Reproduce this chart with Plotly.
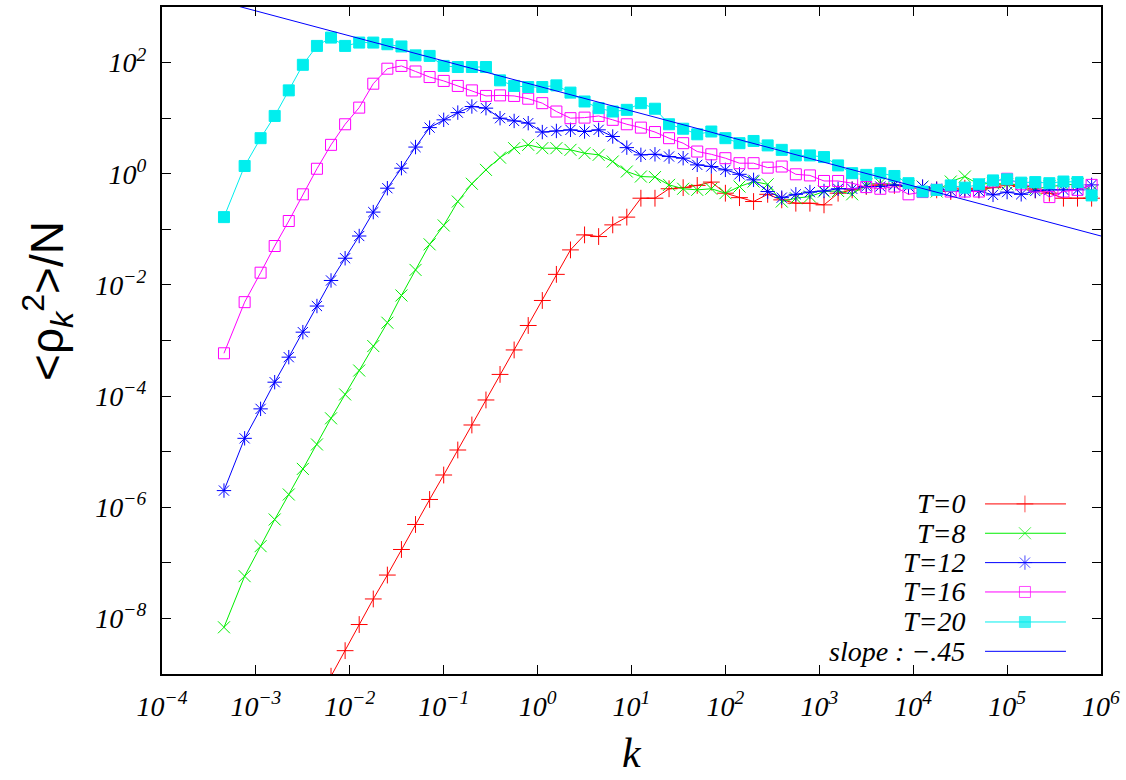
import numpy as np
import plotly.graph_objects as go

# ---------------- data (log10 values) ----------------
LOG10_K = [-3.34, -3.12, -2.95, -2.80, -2.65, -2.50, -2.35, -2.20, -2.05, -1.90,
           -1.75, -1.60, -1.45, -1.30, -1.15, -1.00, -0.85, -0.70, -0.55, -0.40,
           -0.25, -0.10, 0.05, 0.20, 0.35, 0.50, 0.65, 0.80, 0.95, 1.10,
           1.25, 1.40, 1.55, 1.70, 1.85, 2.00, 2.15, 2.30, 2.45, 2.60,
           2.75, 2.90, 3.05, 3.20, 3.35, 3.50, 3.65, 3.80, 3.95, 4.10,
           4.25, 4.40, 4.55, 4.70, 4.85, 5.00, 5.15, 5.30, 5.45, 5.60,
           5.75, 5.90]

LOG_T0 = [None, None, None, None, None, None, None,
          -9.04, -8.58, -8.11, -7.65, -7.22, -6.76, -6.31, -5.86, -5.42, -4.97,
          -4.52, -4.07, -3.61, -3.17, -2.73, -2.28, -1.81,
          -1.37, -1.10, -1.13, -0.92, -0.78, -0.44, -0.44, -0.27, -0.25, -0.21,
          -0.15, -0.35, -0.43, -0.50, -0.37, -0.47, -0.53, -0.53, -0.56, -0.35,
          -0.29, -0.23, -0.20, -0.21, -0.23, -0.26, -0.29, -0.32, -0.26, -0.29,
          -0.25, -0.20, -0.23, -0.29, -0.35, -0.44, -0.44, -0.44]

LOG_T8 = [-8.16, -7.24, -6.70, -6.22, -5.77, -5.31, -4.87, -4.40, -3.97, -3.54,
          -3.10, -2.68, -2.19, -1.73, -1.27, -0.93, -0.50, -0.18, 0.07, 0.29,
          0.46, 0.52, 0.46, 0.46,
          0.43, 0.37, 0.34, 0.22, 0.04, -0.05, -0.06, -0.20, -0.27, -0.29,
          -0.27, -0.35, -0.23, -0.14, -0.19, -0.50, -0.44, -0.41, -0.32, -0.31,
          -0.37, -0.19, -0.17, -0.19, -0.23, -0.23, -0.32, -0.14, -0.05, -0.19,
          -0.17, -0.19, -0.19, -0.27, -0.23, -0.20, -0.19, -0.31]

LOG_T12 = [-5.70, -4.76, -4.23, -3.75, -3.30, -2.85, -2.38, -1.92, -1.52, -1.12,
           -0.69, -0.26, 0.10, 0.48, 0.83, 0.97, 1.10, 1.21, 1.18, 1.00,
           0.95, 0.91, 0.75, 0.77,
           0.79, 0.76, 0.79, 0.67, 0.47, 0.34, 0.35, 0.31, 0.28, 0.16,
           0.13, 0.07, -0.01, -0.11, -0.32, -0.43, -0.37, -0.33, -0.31, -0.27,
           -0.27, -0.23, -0.23, -0.20, -0.23, -0.23, -0.27, -0.31, -0.31, -0.31,
           -0.38, -0.33, -0.37, -0.31, -0.29, -0.29, -0.29, -0.20]

LOG_T16 = [-3.23, -2.31, -1.78, -1.30, -0.85, -0.37, 0.09, 0.52, 0.89, 1.19,
           1.62, 1.89, 1.94, 1.84, 1.74, 1.67, 1.58, 1.50, 1.40, 1.41,
           1.40, 1.35, 1.27, 1.12,
           1.00, 1.01, 1.04, 0.97, 0.89, 0.83, 0.75, 0.64, 0.55, 0.40,
           0.35, 0.28, 0.19, 0.19, 0.11, 0.13, -0.01, -0.03, -0.13, -0.13,
           -0.17, -0.24, -0.27, -0.23, -0.37, -0.33, -0.29, -0.32, -0.32, -0.32,
           -0.14, -0.09, -0.19, -0.23, -0.42, -0.32, -0.29, -0.20]

LOG_T20 = [-0.78, 0.14, 0.64, 1.04, 1.50, 1.96, 2.30, 2.45, 2.30, 2.36,
           2.36, 2.33, 2.29, 2.13, 2.12, 1.94, 1.92, 1.92, 1.92, 1.68,
           1.58, 1.56, 1.56, 1.59,
           1.46, 1.30, 1.18, 1.12, 1.15, 1.27, 1.17, 0.89, 0.81, 0.71,
           0.76, 0.64, 0.55, 0.59, 0.51, 0.43, 0.33, 0.33, 0.30, 0.15,
           0.01, -0.02, 0.01, -0.04, -0.17, -0.32, -0.29, -0.21, -0.25, -0.19,
           -0.12, -0.10, -0.16, -0.15, -0.17, -0.14, -0.15, -0.39]

SERIES_NAMES = ["T=0", "T=8", "T=12", "T=16", "T=20"]
SLOPE_NAME = "slope : \u2212.45"
SLOPE = -0.45
PREFACTOR = 38.0
SLOPE_K = [1e-4, 1e6]

X_TICK_EXP = [-4, -3, -2, -1, 0, 1, 2, 3, 4, 5, 6]
Y_LABEL_EXP = [-8, -6, -4, -2, 0, 2]
Y_MINOR_EXP = [-9, -7, -5, -3, -1, 1, 3]

# ---------------- styles ----------------
COLORS = ["#ff0000", "#00ee00", "#0000ff", "#ff00ff", "#00eeee"]
SYMBOLS = ["cross-thin", "x-thin", "asterisk", "square-open", "square"]
SIZES = [12, 12, 12, 11, 11]
SLOPE_COLOR = "#0000ff"
SERIF = "Liberation Serif"
SANS = "Liberation Sans"

k = np.power(10.0, LOG10_K)


def to_lin(vals):
    return [None if v is None else 10.0 ** v for v in vals]


fig = go.Figure()
for name, vals, col, sym, sz in zip(SERIES_NAMES, [LOG_T0, LOG_T8, LOG_T12, LOG_T16, LOG_T20],
                                     COLORS, SYMBOLS, SIZES):
    fig.add_trace(go.Scatter(
        x=k, y=to_lin(vals), name=name, mode="lines+markers",
        line=dict(color=col, width=1),
        marker=dict(symbol=sym, size=sz, color=col, line=dict(color=col, width=1)),
        showlegend=False, connectgaps=False))

slope_y = [PREFACTOR * kk ** SLOPE for kk in SLOPE_K]
fig.add_trace(go.Scatter(x=SLOPE_K, y=slope_y, mode="lines", name=SLOPE_NAME,
                         line=dict(color=SLOPE_COLOR, width=1), showlegend=False))

# ---------------- manual gnuplot-style key (text left, sample right) ----------------
KEY_ROWS = [0.255, 0.211, 0.167, 0.123, 0.078, 0.034]
KEY_TEXT_X = 0.857
KEY_LINE_X = [0.8765, 0.919, 0.9627]
for i, name in enumerate(SERIES_NAMES + [SLOPE_NAME]):
    r = KEY_ROWS[i]
    if i < 5:
        fig.add_trace(go.Scatter(
            x=KEY_LINE_X, y=[r, r, r], xaxis="x2", yaxis="y2", mode="lines+markers",
            line=dict(color=COLORS[i], width=1),
            marker=dict(symbol=SYMBOLS[i], size=[0, SIZES[i], 0], color=COLORS[i],
                        line=dict(color=COLORS[i], width=1)),
            showlegend=False, hoverinfo="skip"))
    else:
        fig.add_trace(go.Scatter(
            x=[KEY_LINE_X[0], KEY_LINE_X[2]], y=[r, r], xaxis="x2", yaxis="y2", mode="lines",
            line=dict(color=SLOPE_COLOR, width=1), showlegend=False, hoverinfo="skip"))
    fig.add_annotation(x=KEY_TEXT_X, y=r, xref="paper", yref="paper", text=f"<i>{name}</i>",
                       showarrow=False, xanchor="right", yanchor="middle",
                       font=dict(family=SERIF, size=28, color="black"))


def exp_label(n):
    s = str(n).replace("-", "\u2212")
    return f"<i>10<sup>{s}</sup></i>"


axis_common = dict(type="log", showgrid=False, zeroline=False, showline=True, linecolor="black",
                   linewidth=2, mirror="allticks", ticks="inside", ticklen=9, tickwidth=1,
                   tickcolor="black", tickmode="array",
                   tickfont=dict(family=SERIF, size=28, color="black"))

fig.update_layout(
    width=1126, height=780,
    margin=dict(l=162, r=25, t=5, b=106),
    paper_bgcolor="white", plot_bgcolor="white",
    xaxis=dict(range=[-4, 6], tickvals=[10.0 ** e for e in X_TICK_EXP],
               ticktext=[exp_label(e) for e in X_TICK_EXP], ticklabelstandoff=6, **axis_common),
    yaxis=dict(range=[-9, 3], tickvals=[10.0 ** e for e in Y_LABEL_EXP],
               ticktext=[exp_label(e) for e in Y_LABEL_EXP], ticklabelstandoff=8,
               minor=dict(tickmode="array", tickvals=[10.0 ** e for e in Y_MINOR_EXP],
                          ticks="inside", ticklen=9, tickwidth=1, tickcolor="black", showgrid=False),
               **axis_common),
    xaxis2=dict(overlaying="x", range=[0, 1], visible=False, showticklabels=False, fixedrange=True),
    yaxis2=dict(overlaying="y", range=[0, 1], visible=False, showticklabels=False, fixedrange=True),
    showlegend=False,
)

fig.add_annotation(x=0.5, y=-0.119, xref="paper", yref="paper", text="<i>k</i>", showarrow=False,
                   xanchor="center", yanchor="middle", font=dict(family=SERIF, size=42, color="black"))
fig.add_annotation(x=-0.122, y=0.56, xref="paper", yref="paper",
                   text="&lt;\u03c1<sub><i>k</i></sub><sup>2</sup>&gt;/N", textangle=-90,
                   showarrow=False, xanchor="center", yanchor="middle",
                   font=dict(family=SANS, size=46, color="black"))

fig.write_html("out.html", config={"displayModeBar": False},
               post_script="document.body.style.margin='0px';")
